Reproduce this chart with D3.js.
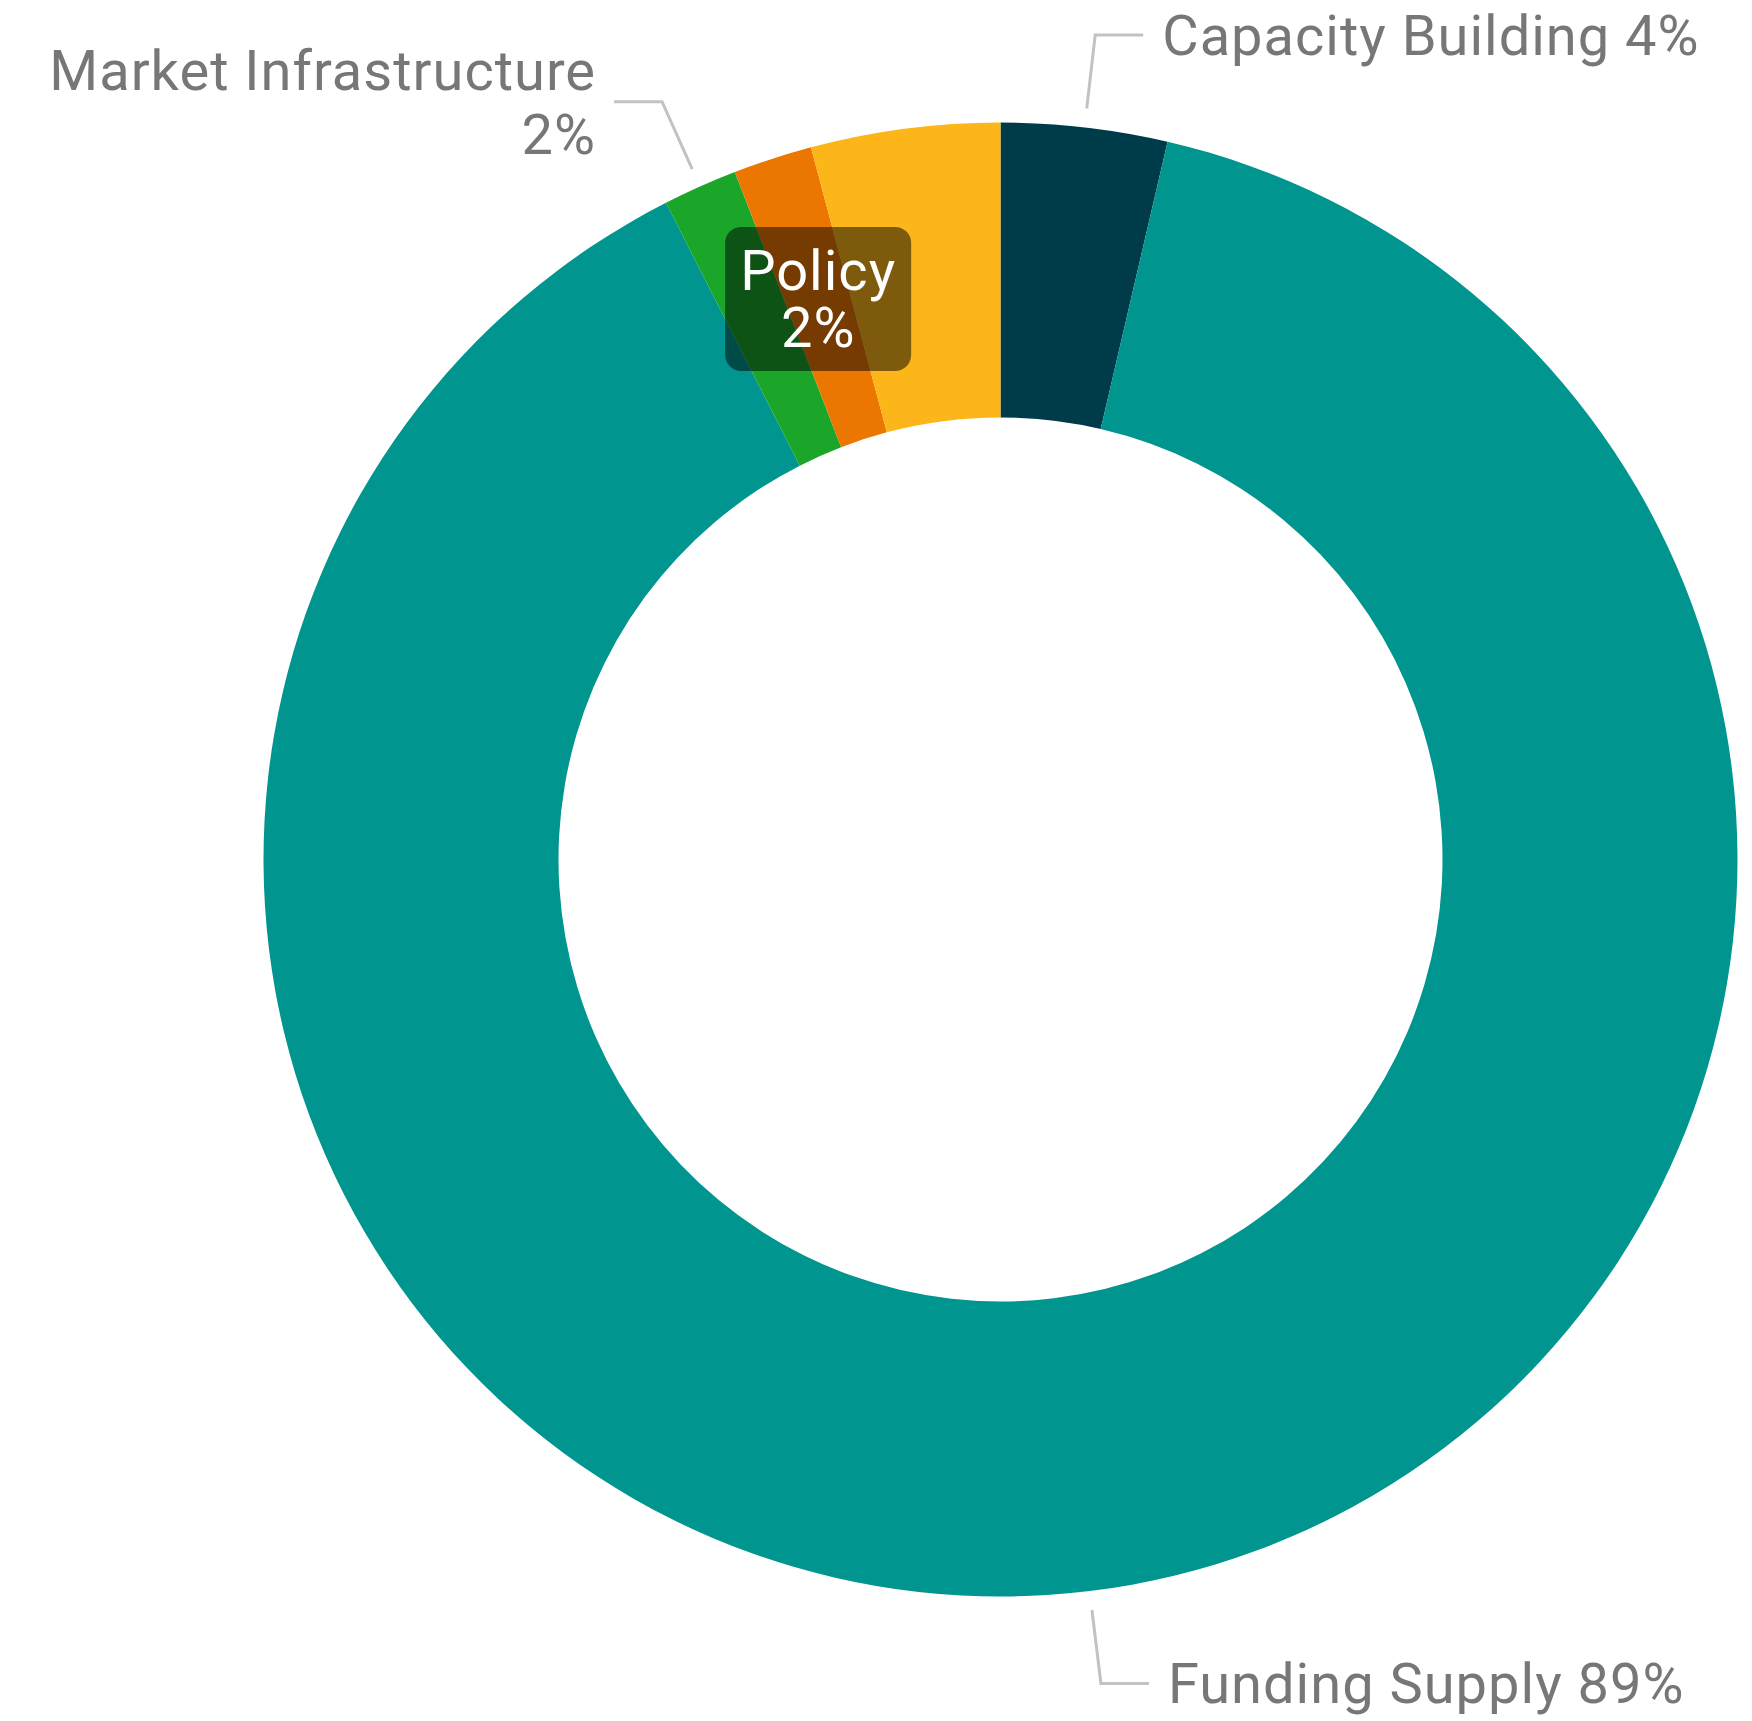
<!DOCTYPE html>
<html>
<head>
<meta charset="utf-8">
<script src="https://cdn.jsdelivr.net/npm/d3@7/dist/d3.min.js"></script>
<style>
  html, body { margin: 0; padding: 0; background: #ffffff; }
  svg { display: block; }
</style>
</head>
<body>
<svg id="chart" width="1752" height="1721"></svg>
<script>
// ---- data ----
const categories = ["Capacity Building", "Funding Supply", "Market Infrastructure", "Policy", "Other"];
const values = [3.64, 88.86, 1.63, 1.73, 4.14];
const colors = ["#003b49", "#00958e", "#1ba62a", "#ec7700", "#fdb619"];
// outside labels shown in the reference, with their line breaks
const labelledCategories = ["Capacity Building", "Funding Supply", "Market Infrastructure"];
const labelWraps = { "Market Infrastructure": true };
const tooltipCategory = "Policy";

// ---- layout ----
const W = 1752, H = 1721;
const cx = 1000.5, cy = 859.5;
const outerR = 737, innerR = 442;
const fontFamily = "Roboto, 'DejaVu Sans', sans-serif";
const fontSize = 56;
const capH = fontSize * 0.711;
const letterSp = 1.0;
const textColor = "#777777";
const lineColor = "#c2c2c2";

const svg = d3.select("#chart");
const g = svg.append("g").attr("transform", `translate(${cx},${cy})`);

const data = categories.map((c, i) => ({ name: c, value: values[i], color: colors[i] }));
const total = d3.sum(values);
const pct = d => d3.format(".0f")(d.data.value / total * 100) + "%";

const pie = d3.pie().sort(null).value(d => d.value);
const arcs = pie(data);
const arc = d3.arc().innerRadius(innerR).outerRadius(outerR);

g.selectAll("path.slice")
  .data(arcs)
  .join("path")
  .attr("class", "slice")
  .attr("d", arc)
  .attr("fill", d => d.data.color);

// ---- leader lines + labels ----
const r1 = outerR + 19, r2 = outerR + 93, hLen = 48, gap = 19;
const lab = g.append("g");
arcs.filter(d => labelledCategories.includes(d.data.name)).forEach(d => {
  const a = (d.startAngle + d.endAngle) / 2;
  const sx = Math.sin(a), sy = -Math.cos(a);
  const right = sx >= 0;
  const p1 = [r1 * sx, r1 * sy];
  const p2 = [r2 * sx, r2 * sy];
  const p3 = [p2[0] + (right ? hLen : -hLen), p2[1]];
  lab.append("polyline")
    .attr("points", [p1, p2, p3].map(p => p.join(",")).join(" "))
    .attr("fill", "none")
    .attr("stroke", lineColor)
    .attr("stroke-width", 3);
  const tx = p3[0] + (right ? gap : -gap);
  const lines = labelWraps[d.data.name] ? [d.data.name, pct(d)] : [d.data.name + " " + pct(d)];
  const spacing = 64;
  lines.forEach((ln, i) => {
    const centerY = p3[1] + (i - (lines.length - 1) / 2) * spacing;
    lab.append("text")
      .attr("font-family", fontFamily)
      .attr("font-size", fontSize)
      .attr("letter-spacing", letterSp + "px")
      .attr("fill", textColor)
      .attr("text-anchor", right ? "start" : "end")
      .attr("x", right ? tx : tx + letterSp)
      .attr("y", centerY + capH / 2)
      .text(ln);
  });
});

// ---- tooltip (Policy) ----
const tipArc = arcs.find(d => d.data.name === tooltipCategory);
const [tcx, tcy] = arc.centroid(tipArc);
const tipW = 186, tipH = 144, tipSpacing = 57;
const tip = g.append("g");
tip.append("rect")
  .attr("x", tcx - tipW / 2).attr("y", tcy - tipH / 2)
  .attr("width", tipW).attr("height", tipH)
  .attr("rx", 16).attr("ry", 16)
  .attr("fill", "rgba(0,0,0,0.5)");
const tipLines = [tipArc.data.name, pct(tipArc)];
const tt = tip.append("text")
  .attr("font-family", fontFamily)
  .attr("font-size", fontSize)
  .attr("letter-spacing", "1px")
  .attr("fill", "#ffffff")
  .attr("text-anchor", "middle");
tipLines.forEach((ln, i) => {
  const centerY = tcy + (i - 0.5) * tipSpacing;
  tt.append("tspan").attr("x", tcx).attr("y", centerY + capH / 2).text(ln);
});
</script>
</body>
</html>
